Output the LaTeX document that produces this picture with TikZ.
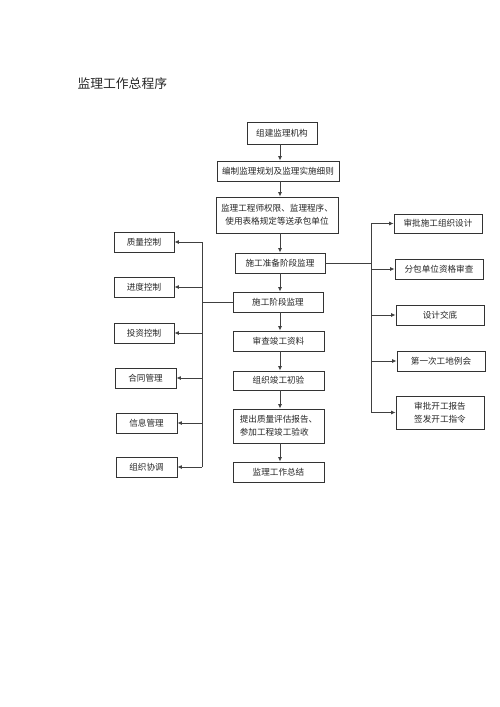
\documentclass[tikz,border=0pt]{standalone}
\usepackage{fontspec}
\newfontfamily\cjk{Noto Sans CJK SC}
\usetikzlibrary{arrows.meta}
\begin{document}
\begin{tikzpicture}[x=1pt,y=-1pt,
  box/.style={draw=black!80, line width=0.7pt, fill=white, inner sep=0pt, align=center,
    font=\cjk\fontsize{8.6}{13}\selectfont, text=black!85},
  conn/.style={draw=black!75, line width=0.8pt},
  arr/.style={conn, -{Latex[length=4.5pt,width=3.8pt]}}]
\useasboundingbox[fill=white] (0,0) rectangle (500,707);
\node[anchor=west, font=\cjk\fontsize{12.8}{14}\selectfont, text=black!85] (title) at (74,84) {监理工作总程序};
% centre column
\node[box, minimum width=70pt, minimum height=22pt] (b1) at (282,133) {组建监理机构};
\node[box, minimum width=122pt, minimum height=20pt] (b2) at (278,171) {编制监理规划及监理实施细则};
\node[box, minimum width=122pt, minimum height=36pt] (b3) at (277,215) {监理工程师权限、监理程序、\\使用表格规定等送承包单位};
\node[box, minimum width=90pt, minimum height=20pt] (b4) at (280,263) {施工准备阶段监理};
\node[box, minimum width=90pt, minimum height=20pt] (b5) at (278,302) {施工阶段监理};
\node[box, minimum width=91pt, minimum height=20pt] (b6) at (278.5,341) {审查竣工资料};
\node[box, minimum width=91pt, minimum height=19pt] (b7) at (278.5,380.5) {组织竣工初验};
\node[box, minimum width=91pt, minimum height=34pt, align=left] (b8) at (278.5,426) {提出质量评估报告、\\参加工程竣工验收};
\node[box, minimum width=91pt, minimum height=20pt] (b9) at (278.5,472) {监理工作总结};
% left column
\node[box, minimum width=60pt, minimum height=20pt] (l1) at (144,242) {质量控制};
\node[box, minimum width=60pt, minimum height=20pt] (l2) at (144,287) {进度控制};
\node[box, minimum width=60pt, minimum height=20pt] (l3) at (144,333) {投资控制};
\node[box, minimum width=61pt, minimum height=20pt] (l4) at (145.5,378) {合同管理};
\node[box, minimum width=61pt, minimum height=20pt] (l5) at (146.5,423) {信息管理};
\node[box, minimum width=61pt, minimum height=20pt] (l6) at (146.5,467) {组织协调};
% right column
\node[box, minimum width=88pt, minimum height=19pt] (r1) at (438,223.5) {审批施工组织设计};
\node[box, minimum width=88pt, minimum height=20pt] (r2) at (439,269) {分包单位资格审查};
\node[box, minimum width=88pt, minimum height=20pt] (r3) at (440,315) {设计交底};
\node[box, minimum width=88pt, minimum height=20pt] (r4) at (441,361) {第一次工地例会};
\node[box, minimum width=88pt, minimum height=33pt] (r5) at (440,412.5) {审批开工报告\\签发开工指令};
% centre arrows
\coordinate (cx) at (280,0);
\foreach \a/\b in {b1/b2,b2/b3,b3/b4,b4/b5,b5/b6,b6/b7,b7/b8,b8/b9}{
  \draw[arr] (\a.south -| cx) -- (\b.north -| cx);
}
% left bus
\coordinate (lb) at (202,0);
\draw[conn] (b5.west) -- (b5.west -| lb);
\draw[conn] (l1 -| lb) -- (l6 -| lb);
\foreach \n in {l1,l2,l3,l4,l5,l6}{
  \draw[arr] (\n -| lb) -- (\n.east);
}
% right bus
\coordinate (rb) at (371,0);
\draw[conn] (b4.east) -- (b4.east -| rb);
\draw[conn] (r1 -| rb) -- (r5 -| rb);
\foreach \n in {r1,r2,r3,r4,r5}{
  \draw[arr] (\n -| rb) -- (\n.west);
}
\end{tikzpicture}
\end{document}
